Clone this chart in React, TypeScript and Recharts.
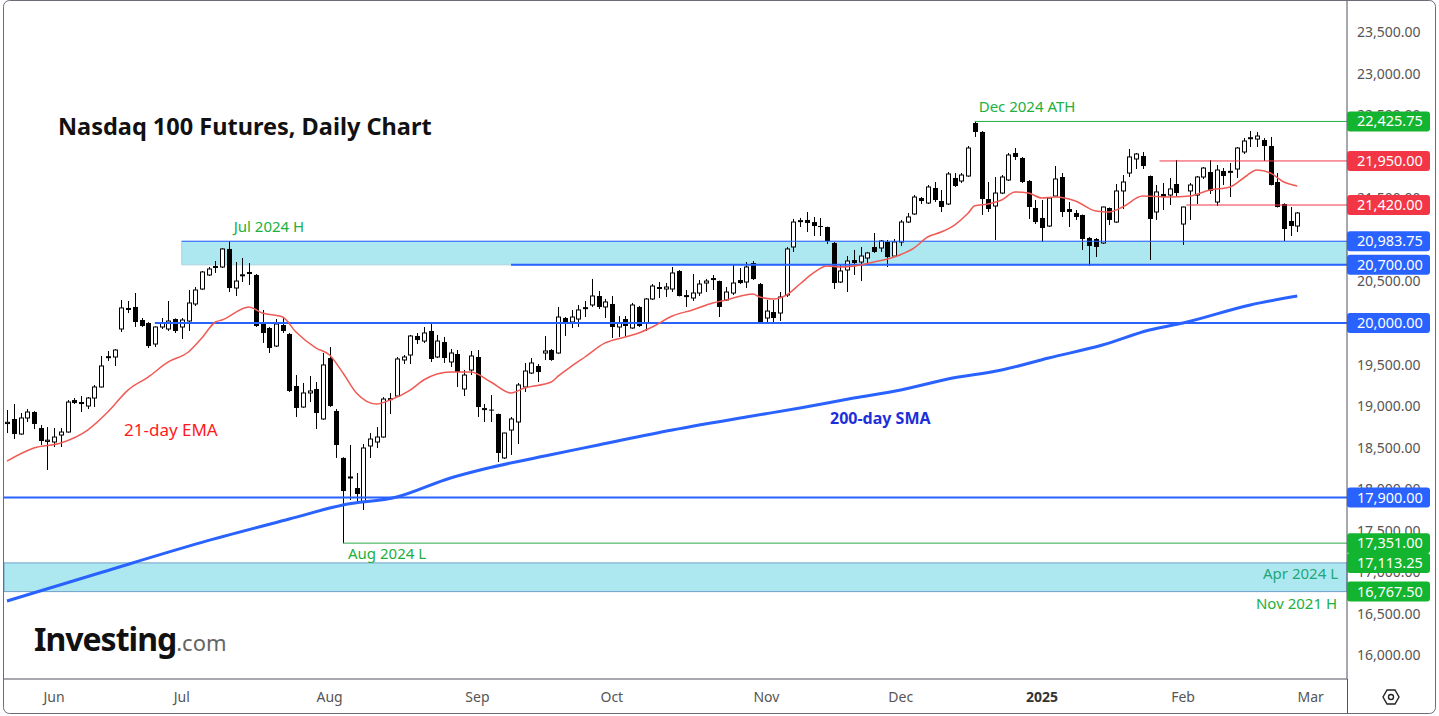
import React from "react";
import {
  ComposedChart,
  XAxis,
  YAxis,
  Bar,
  Line,
  ReferenceLine,
  ReferenceArea,
} from "recharts";

// month ticks (trading-day index of the first session in each month)
const monthTickBars = [7, 26, 48, 70, 90, 113, 133, 154, 175, 194];
const monthLabels = ["Jun", "Jul", "Aug", "Sep", "Oct", "Nov", "Dec", "2025", "Feb", "Mar"];

const priceTicks = [
  16000, 16500, 17000, 17500, 18000, 18500, 19000, 19500, 20000, 20500, 21000,
  21500, 22000, 22500, 23000, 23500,
];

// daily OHLC, 22 May 2024 -> 27 Feb 2025
const opens = [
  18790, 18845, 18664, 18857, 18929, 18736, 18575, 18568, 18652, 18688, 19073, 19049, 19001, 19097, 19230, 19585,
  19591, 19928, 20165, 20193, 20036, 20000, 19747, 19952, 19928, 20048, 19952, 20024, 20229, 20409, 20578, 20670,
  20674, 20891, 20421, 20570, 20614, 20578, 20012, 19940, 19723, 19976, 19868, 19242, 18989, 19158, 19206, 18845,
  19579, 18941, 18376, 18140, 18014, 17846, 18520, 18568, 18628, 19080, 19121, 19555, 19615, 19844, 19783, 19904,
  19591, 19771, 19531, 19627, 19206, 19434, 19591, 18960, 18958, 18905, 18376, 18712, 18809, 19230, 19398, 19483,
  19639, 19675, 19639, 20060, 20012, 20048, 20175, 20217, 20325, 20193, 20229, 19952, 20048, 19940, 20193, 20000,
  20289, 20433, 20409, 20409, 20626, 20320, 20301, 20361, 20481, 20525, 20505, 20277, 20361, 20517, 20493, 20722,
  20469, 20060, 20132, 20120, 20337, 20915, 21222, 21240, 21215, 21167, 21155, 20963, 20493, 20638, 20758, 20734,
  20782, 20915, 20903, 20975, 20806, 20975, 21215, 21312, 21504, 21444, 21625, 21468, 21432, 21745, 21709, 21769,
  22407, 22299, 21492, 21408, 21564, 21721, 22046, 21986, 21709, 21384, 21264, 21167, 21528, 21757, 21372, 21324,
  21300, 21023, 21011, 20963, 21384, 21215, 21589, 21805, 21974, 22010, 21769, 21336, 21552, 21540, 21673, 21191,
  21589, 21540, 21757, 21817, 21456, 21829, 21815, 21853, 22058, 22220, 22214, 22202, 22130, 21697, 21432, 21228,
  21167,
];
const highs = [
  18953, 19025, 18917, 18965, 18940, 18772, 18748, 18736, 18736, 19073, 19097, 19121, 19109, 19254, 19603, 19663,
  19687, 20277, 20265, 20361, 20060, 20010, 19960, 20060, 20265, 20055, 20060, 20397, 20433, 20626, 20674, 20746,
  20900, 20984, 20734, 20782, 20722, 20590, 20157, 19952, 20048, 20072, 19880, 19374, 19278, 19362, 19290, 19639,
  19711, 18965, 18385, 18532, 18195, 18544, 18676, 18748, 19109, 19158, 19591, 19615, 19856, 19880, 19952, 20000,
  19856, 19832, 19687, 19675, 19434, 19663, 19675, 19025, 19133, 18910, 18680, 18869, 19278, 19519, 19579, 19507,
  19844, 19687, 20193, 20072, 20157, 20217, 20265, 20530, 20385, 20289, 20325, 20084, 20084, 20241, 20205, 20301,
  20469, 20493, 20481, 20674, 20638, 20397, 20590, 20517, 20530, 20578, 20510, 20433, 20698, 20662, 20734, 20746,
  20481, 20277, 20277, 20373, 20915, 21252, 21264, 21336, 21276, 21264, 21160, 20975, 20698, 20806, 20879, 20915,
  20855, 21083, 20999, 20999, 21011, 21240, 21324, 21540, 21516, 21661, 21697, 21601, 21817, 21805, 21805, 22130,
  22426, 22310, 21697, 21757, 21781, 22046, 22106, 21998, 21721, 21480, 21480, 21510, 21889, 21805, 21456, 21360,
  21305, 21035, 21023, 21400, 21390, 21673, 21781, 22094, 22046, 22058, 21775, 21661, 21685, 21745, 21962, 21400,
  21685, 21769, 21877, 21962, 21901, 21865, 21926, 22118, 22226, 22311, 22299, 22226, 22239, 21805, 21440, 21396,
  21336,
];
const lows = [
  18676, 18604, 18655, 18809, 18724, 18532, 18231, 18508, 18508, 18680, 19025, 18929, 18965, 18989, 19225, 19543,
  19483, 19892, 20120, 19952, 19952, 19699, 19711, 19928, 19904, 19880, 19808, 19904, 20205, 20397, 20566, 20602,
  20662, 20373, 20325, 20493, 20457, 19952, 19760, 19639, 19711, 19880, 19170, 18869, 18980, 19049, 18724, 18835,
  18990, 18376, 17351, 17870, 17834, 17750, 18376, 18496, 18620, 18905, 19110, 19507, 19507, 19747, 19759, 19531,
  19579, 19519, 19471, 19230, 19121, 19374, 18869, 18809, 18809, 18327, 18364, 18412, 18544, 19170, 19386, 19290,
  19555, 19545, 19630, 19844, 19940, 19952, 20072, 20193, 20169, 20060, 19820, 19832, 19832, 19930, 19952, 19904,
  20277, 20301, 20313, 20373, 20320, 20193, 20265, 20325, 20373, 20397, 20072, 20265, 20337, 20469, 20421, 20517,
  19990, 20000, 20000, 20024, 20313, 20855, 21155, 21095, 21047, 21047, 20951, 20409, 20481, 20373, 20578, 20505,
  20698, 20843, 20855, 20674, 20794, 20927, 21204, 21300, 21432, 21432, 21456, 21336, 21420, 21637, 21685, 21760,
  22239, 21300, 21336, 20999, 21552, 21709, 21962, 21685, 21252, 21191, 20975, 21155, 21520, 21276, 21155, 21240,
  20879, 20686, 20794, 20951, 21179, 21205, 21372, 21757, 21853, 21853, 20758, 21240, 21360, 21420, 21516, 20939,
  21240, 21432, 21733, 21552, 21408, 21661, 21516, 21745, 22034, 22118, 22118, 21950, 21655, 21390, 20987, 21047,
  21095,
];
const closes = [
  18805, 18664, 18857, 18929, 18785, 18580, 18590, 18628, 18688, 19049, 19037, 19025, 19097, 19230, 19483, 19595,
  19675, 20181, 20175, 20012, 19964, 19723, 19952, 20000, 20024, 19904, 20036, 20241, 20397, 20614, 20650, 20680,
  20891, 20421, 20505, 20580, 20590, 19964, 19880, 19699, 19988, 19904, 19182, 18977, 19158, 19182, 18917, 19495,
  19001, 18532, 17978, 18147, 17942, 18496, 18604, 18628, 19085, 19090, 19567, 19591, 19844, 19795, 19880, 19567,
  19783, 19579, 19639, 19410, 19374, 19603, 18989, 18970, 18948, 18436, 18676, 18845, 19254, 19422, 19519, 19410,
  19663, 19555, 20072, 20012, 20072, 20157, 20185, 20325, 20193, 20253, 19952, 20000, 19964, 20217, 19964, 20289,
  20445, 20409, 20433, 20602, 20325, 20330, 20361, 20469, 20505, 20535, 20193, 20373, 20481, 20481, 20674, 20529,
  20000, 20144, 20060, 20313, 20891, 21215, 21232, 21204, 21167, 21155, 20987, 20481, 20626, 20746, 20722, 20806,
  20843, 20855, 20987, 20794, 20975, 21215, 21276, 21516, 21468, 21637, 21480, 21396, 21793, 21649, 21781, 22106,
  22299, 21492, 21372, 21564, 21757, 22022, 21998, 21697, 21396, 21215, 21143, 21504, 21733, 21336, 21336, 21276,
  21011, 20927, 20915, 21396, 21240, 21589, 21697, 21998, 22034, 21889, 21252, 21577, 21516, 21613, 21564, 21396,
  21661, 21757, 21865, 21589, 21841, 21769, 21825, 22106, 22190, 22230, 22250, 22130, 21661, 21396, 21131, 21167,
  21324,
];

// 21-day EMA and 200-day SMA at these sessions
const emaBars = [
  0, 4, 8, 12, 15, 18, 21, 24, 27, 29, 31, 32, 36, 38, 41, 43, 46, 48, 50, 52, 55, 57, 60, 62, 66, 69, 72, 75, 77,
  81, 82, 84, 86, 89, 92, 94, 96, 99, 102, 105, 107, 111, 112, 114, 116, 118, 120, 122, 124, 127, 129, 131, 132,
  135, 137, 139, 141, 143, 144, 146, 148, 150, 152, 154, 156, 159, 162, 164, 166, 169, 173, 176, 179, 182, 184,
  186, 188, 190, 192,
];
const emaValues = [
  18339, 18496, 18556, 18712, 18929, 19193, 19350, 19531, 19651, 19820, 20012, 20036, 20193, 20120, 20072, 19892,
  19699, 19615, 19398, 19158, 19025, 19073, 19193, 19314, 19410, 19410, 19290, 19158, 19218, 19290, 19360, 19480,
  19591, 19760, 19832, 19880, 19952, 20084, 20157, 20241, 20277, 20349, 20313, 20289, 20337, 20469, 20602, 20686,
  20674, 20698, 20734, 20770, 20794, 20903, 21035, 21095, 21179, 21320, 21410, 21432, 21480, 21577, 21564, 21504,
  21516, 21468, 21348, 21336, 21396, 21528, 21516, 21528, 21601, 21637, 21745, 21841, 21805, 21697, 21649,
];
const smaBars = [0, 14, 29, 42, 50, 58, 66, 71, 80, 88, 99, 110, 118, 126, 133, 140, 148, 155, 163, 170, 175, 185, 192];
const smaValues = [
  16655, 16998, 17360, 17641, 17810, 17906, 18135, 18243, 18400, 18532, 18712, 18869, 18977, 19097, 19193, 19326,
  19434, 19579, 19735, 19916, 20000, 20217, 20325,
];

// drawn levels
const decAth = 22425.75;
const resistanceHigh = 21950;
const resistanceLow = 21420;
const julHigh = 20983.75;
const supportZone = 20700;
const roundLevel = 20000;
const augSupport = 17900;
const augLow = 17351;
const aprLow = 17113.25;
const nov21High = 16767.5;

const FONT = "'Noto Sans', 'DejaVu Sans', sans-serif";
const X_MIN = -0.446;
const X_MAX = 199.4;
const Y_MIN = 15716;
const Y_MAX = 23875;

const BLUE = "#2962ff";
const GREEN = "#13b42f";
const RED = "#f23645";
const BAND = "#ade8f0";

const data = opens.map((open, i) => {
  const e = emaBars.indexOf(i);
  const s = smaBars.indexOf(i);
  return {
    i,
    open,
    high: highs[i],
    low: lows[i],
    close: closes[i],
    ema: e >= 0 ? emaValues[e] : null,
    sma: s >= 0 ? smaValues[s] : null,
  };
});

const fmt = (v: number) =>
  v.toLocaleString("en-US", { minimumFractionDigits: 2, maximumFractionDigits: 2 });

const Candle = (props: any) => {
  const { x, y, width, height, payload } = props;
  if (!payload || height == null) return null;
  const { open, close, high, low } = payload;
  const up = close >= open;
  const ratio = height / (high - low || 1);
  const top = y + (high - Math.max(open, close)) * ratio;
  const bodyH = Math.max(1, Math.abs(open - close) * ratio);
  const cx = Math.round(x + width / 2) + 0.5;
  return (
    <g>
      <line x1={cx} x2={cx} y1={y} y2={y + height} stroke="#000" strokeWidth={1} />
      {up ? (
        <rect x={cx - 2} y={top} width={4} height={bodyH} fill="#fff" stroke="#000" strokeWidth={1} />
      ) : (
        <rect x={cx - 2.5} y={top} width={5} height={bodyH} fill="#000" />
      )}
    </g>
  );
};

const PriceTag = ({ viewBox, price, color }: any) => {
  if (!viewBox) return null;
  const x = viewBox.x + viewBox.width;
  const y = viewBox.y;
  return (
    <g>
      <rect x={x} y={y - 10} width={83} height={20} rx={3} fill={color} />
      <text x={x + 10} y={y + 5} fill="#fff" fontSize={14.5} fontFamily={FONT}>
        {fmt(price)}
      </text>
    </g>
  );
};

const Note = ({ viewBox, text, color, dx, dy, end }: any) => {
  if (!viewBox) return null;
  const x = end ? viewBox.x + viewBox.width + dx : viewBox.x + dx;
  return (
    <text
      x={x}
      y={viewBox.y + dy}
      fill={color}
      fontSize={15}
      fontFamily={FONT}
      textAnchor={end ? "end" : "start"}
    >
      {text}
    </text>
  );
};

const MonthTick = ({ x, y, payload }: any) => {
  const idx = monthTickBars.indexOf(payload.value);
  const label = monthLabels[idx] ?? "";
  return (
    <text
      x={x}
      y={y + 15}
      textAnchor="middle"
      fill={label === "2025" ? "#333" : "#555"}
      fontWeight={label === "2025" ? 700 : 400}
      fontSize={14}
      fontFamily={FONT}
    >
      {label}
    </text>
  );
};

const tags = [
  { price: decAth, color: GREEN },
  { price: resistanceHigh, color: RED },
  { price: resistanceLow, color: RED },
  { price: julHigh, color: BLUE },
  { price: supportZone, color: BLUE },
  { price: roundLevel, color: BLUE },
  { price: augSupport, color: BLUE },
  { price: augLow, color: GREEN },
  { price: aprLow, color: GREEN },
  { price: nov21High, color: GREEN },
];

export default function App() {
  return (
    <div style={{ position: "relative", width: 1439, height: 716, background: "#fff" }}>
      <style>{"body{margin:0}"}</style>
      <ComposedChart
        width={1439}
        height={716}
        data={data}
        margin={{ top: 1, right: 1, bottom: 0, left: 4 }}
      >
        <ReferenceArea
          x1={26}
          x2={X_MAX}
          y1={supportZone}
          y2={julHigh}
          fill={BAND}
          fillOpacity={1}
          stroke="#a9d3e0"
          ifOverflow="visible"
        />
        <ReferenceArea
          y1={nov21High}
          y2={aprLow}
          fill={BAND}
          fillOpacity={1}
          stroke="#6f9fc8"
          ifOverflow="visible"
        />
        <XAxis
          type="number"
          dataKey="i"
          domain={[X_MIN, X_MAX]}
          allowDataOverflow
          ticks={monthTickBars}
          tick={<MonthTick />}
          tickLine={false}
          axisLine={{ stroke: "#50535e" }}
          height={37}
        />
        <YAxis
          orientation="right"
          type="number"
          domain={[Y_MIN, Y_MAX]}
          allowDataOverflow
          ticks={priceTicks}
          tickFormatter={fmt}
          tick={{ fill: "#555", fontSize: 14, fontFamily: FONT, textAnchor: "start" }}
          tickLine={false}
          tickMargin={4}
          axisLine={{ stroke: "#50535e" }}
          width={91}
        />

        <ReferenceLine
          segment={[{ x: 144, y: decAth }, { x: X_MAX, y: decAth }]}
          stroke="#20b040"
          ifOverflow="visible"
          label={<Note text="Dec 2024 ATH" color="#20b040" dx={4} dy={-9} />}
        />
        <ReferenceLine
          segment={[{ x: 171.5, y: resistanceHigh }, { x: X_MAX, y: resistanceHigh }]}
          stroke={RED}
          ifOverflow="visible"
        />
        <ReferenceLine
          segment={[{ x: 175.5, y: resistanceLow }, { x: X_MAX, y: resistanceLow }]}
          stroke={RED}
          ifOverflow="visible"
        />
        <ReferenceLine
          segment={[{ x: 26, y: julHigh }, { x: X_MAX, y: julHigh }]}
          stroke={BLUE}
          ifOverflow="visible"
          label={<Note text="Jul 2024 H" color="#20b040" dx={52} dy={-9} />}
        />
        <ReferenceLine
          segment={[{ x: 75, y: supportZone }, { x: X_MAX, y: supportZone }]}
          stroke={BLUE}
          strokeWidth={2}
          ifOverflow="visible"
        />
        <ReferenceLine
          segment={[{ x: 22, y: roundLevel }, { x: X_MAX, y: roundLevel }]}
          stroke={BLUE}
          strokeWidth={2}
          ifOverflow="visible"
        />
        <ReferenceLine y={augSupport} stroke={BLUE} strokeWidth={2} ifOverflow="visible" />
        <ReferenceLine
          segment={[{ x: 50, y: augLow }, { x: X_MAX, y: augLow }]}
          stroke="#2aa84a"
          ifOverflow="visible"
          label={<Note text="Aug 2024 L" color="#20b040" dx={5} dy={16} />}
        />
        <ReferenceLine
          y={aprLow}
          stroke="none"
          ifOverflow="visible"
          label={<Note text="Apr 2024 L" color="#1ea67a" dx={-9} dy={16} end />}
        />
        <ReferenceLine
          y={nov21High}
          stroke="none"
          ifOverflow="visible"
          label={<Note text="Nov 2021 H" color="#20b040" dx={-10} dy={17} end />}
        />

        <Bar
          dataKey={(d: any) => [d.low, d.high]}
          barSize={5}
          shape={<Candle />}
          isAnimationActive={false}
        />
        <Line
          dataKey="sma"
          type="monotone"
          stroke={BLUE}
          strokeWidth={3}
          dot={false}
          connectNulls
          isAnimationActive={false}
        />
        <Line
          dataKey="ema"
          type="monotone"
          stroke="#f05a55"
          strokeWidth={1.5}
          dot={false}
          connectNulls
          isAnimationActive={false}
        />
      </ComposedChart>

      {/* second layer with the same scales so the price tags sit above the axis ticks */}
      <div style={{ position: "absolute", left: 0, top: 0, pointerEvents: "none" }}>
        <ComposedChart
          width={1439}
          height={716}
          data={data}
          margin={{ top: 1, right: 92, bottom: 37, left: 4 }}
        >
          <XAxis type="number" dataKey="i" domain={[X_MIN, X_MAX]} allowDataOverflow hide />
          <YAxis type="number" domain={[Y_MIN, Y_MAX]} allowDataOverflow hide />
          {tags.map((t) => (
            <ReferenceLine
              key={t.price}
              y={t.price}
              stroke="none"
              ifOverflow="visible"
              label={<PriceTag price={t.price} color={t.color} />}
            />
          ))}
        </ComposedChart>
      </div>

      <svg
        width={1439}
        height={716}
        style={{ position: "absolute", left: 0, top: 0, pointerEvents: "none" }}
      >
        <text x={58} y={135} fontSize={23.5} fontWeight={700} fill="#111" fontFamily={FONT}>
          Nasdaq 100 Futures, Daily Chart
        </text>
        <text x={124} y={436} fontSize={17} fill="#ff1a1a" fontFamily={FONT}>
          21-day EMA
        </text>
        <text x={830} y={424} fontSize={16} fontWeight={700} fill="#1e2fd9" fontFamily={FONT}>
          200-day SMA
        </text>
        <text x={34} y={651} fontFamily={FONT}>
          <tspan fontSize={32} fontWeight={700} fill="#111" letterSpacing={-1}>
            Investing
          </tspan>
          <tspan fontSize={22} fill="#666">
            .com
          </tspan>
        </text>
        <line x1={1347.5} x2={1347.5} y1={679} y2={713} stroke="#50535e" />
        <g transform="translate(1391,697)" fill="none" stroke="#222" strokeWidth={1.4}>
          <polygon points="-8,0 -4,-7 4,-7 8,0 4,7 -4,7" />
          <circle r={2.5} />
        </g>
        <rect
          x={3.5}
          y={0.5}
          width={1432}
          height={713}
          rx={6}
          fill="none"
          stroke="#6a6d78"
        />
      </svg>
    </div>
  );
}
